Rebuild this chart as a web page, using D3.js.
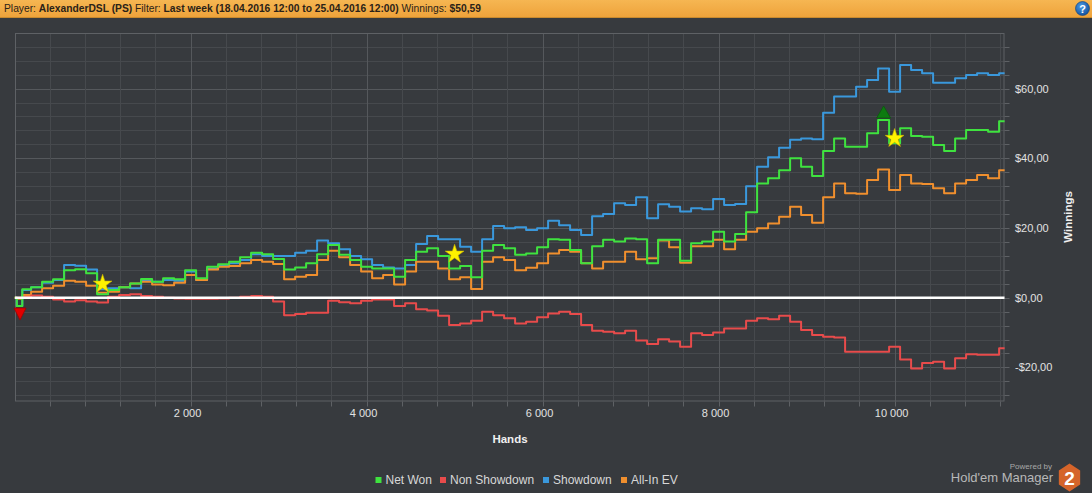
<!DOCTYPE html>
<html><head><meta charset="utf-8">
<script src="https://cdn.jsdelivr.net/npm/d3@7"></script>
<style>
html,body{margin:0;padding:0;background:#373a3e;overflow:hidden;}
svg{display:block;}
</style></head><body>
<svg id="c" width="1092" height="493"></svg>
<script>
// ---------- data ----------
const hands = [0,50,125,250,375,500,625,750,875,1000,1125,1250,1375,1500,1625,1750,1875,2000,2125,2250,2375,2500,2625,2750,2875,3000,3125,3250,3375,3500,3625,3750,3875,4000,4125,4250,4375,4500,4625,4750,4875,5000,5125,5250,5375,5500,5625,5750,5875,6000,6125,6250,6375,6500,6625,6750,6875,7000,7125,7250,7375,7500,7625,7750,7875,8000,8125,8250,8375,8500,8625,8750,8875,9000,9125,9250,9375,9500,9625,9750,9875,10000,10125,10250,10375,10500,10625,10750,10875,11000,11125,11250];
const netWon = [0,-2.4,2.4,3.0,4.6,5.3,7.9,8.2,7.0,1.0,2.2,3.0,4.1,5.4,4.6,5.6,5.3,7.9,5.6,8.9,9.6,10.3,11.6,12.9,12.5,11.1,8.1,8.7,9.9,12.5,15.1,12.3,10.8,8.9,8.4,8.4,6.0,10.8,13.2,14.2,12.0,8.4,9.1,5.9,13.5,15.1,14.2,12.3,12.7,14.5,16.8,16.6,13.7,9.9,14.8,16.6,16.1,17.0,16.8,9.9,16.6,16.6,10.6,15.6,16.1,18.9,16.1,18.3,24.5,32.8,34.3,36.6,40.0,37.6,34.9,42.1,45.7,43.3,43.3,47.2,51.0,44.3,48.6,46.4,46.2,43.8,42.1,45.7,48.1,48.1,47.6,50.6];
const nonShowdown = [0,0,0.3,0.6,0.3,-0.5,-1.1,-0.7,-1.1,-1.4,0.3,0.8,1.0,0.5,0.3,0.0,-0.2,-0.3,-0.3,-0.3,-0.2,0.0,0.3,0.5,0.3,-1.1,-5.0,-4.7,-4.3,-4.3,-0.9,-1.3,-1.6,-0.9,-0.5,-0.5,-2.4,-1.6,-3.3,-3.7,-5.2,-7.8,-7.4,-6.6,-4.0,-5.0,-5.9,-7.4,-6.9,-5.6,-4.5,-4.0,-4.7,-7.8,-9.5,-9.8,-10.2,-9.5,-12.3,-13.3,-11.9,-12.6,-14.1,-10.2,-10.7,-10.0,-8.8,-8.8,-6.6,-5.9,-6.2,-5.2,-6.9,-9.3,-10.7,-11.2,-11.4,-15.5,-15.5,-15.5,-15.5,-14.1,-17.7,-20.3,-18.7,-18.4,-20.3,-17.4,-16.2,-16.4,-16.4,-14.5];
const showdown = [0,-2.4,2.2,3.0,4.3,5.1,9.4,9.2,8.1,2.4,2.7,3.0,2.7,5.1,4.6,5.1,4.9,7.5,5.1,8.4,9.1,9.9,10.8,12.5,12.0,12.0,12.0,12.9,13.5,16.4,15.6,13.9,12.0,11.0,9.4,8.7,8.4,9.4,15.4,17.7,16.8,16.8,14.6,13.2,16.8,20.6,19.9,20.2,19.4,19.9,22.1,20.8,19.4,18.0,23.4,24.0,27.1,26.6,28.8,22.8,26.8,26.1,24.7,25.7,25.4,28.3,26.6,26.9,32.0,37.6,40.3,43.0,45.3,45.7,45.5,53.1,57.7,57.7,60.5,62.5,65.8,59.1,66.8,65.3,64.4,61.7,61.7,63.0,63.9,64.4,63.9,64.4];
const allInEV = [0,-0.3,0.8,1.7,2.7,3.4,4.9,4.6,3.4,1.4,1.7,3.0,4.1,4.6,3.8,3.6,4.3,6.5,5.1,8.1,8.9,9.1,9.9,10.8,10.3,9.7,5.3,6.0,6.5,10.8,13.5,11.6,9.4,7.5,5.6,6.5,3.8,7.5,10.3,10.3,8.4,5.3,5.9,2.5,10.3,11.6,10.8,7.9,8.6,9.9,12.7,13.7,13.2,9.9,8.4,10.3,10.3,13.2,11.0,11.3,16.4,14.5,10.0,14.8,14.8,16.6,13.9,16.6,18.9,19.9,21.3,23.2,26.1,23.7,21.5,28.8,32.8,30.0,29.8,33.8,36.8,30.9,35.2,32.8,32.6,31.4,30.0,32.8,33.8,35.2,34.3,36.6];
const seriesNames = ["Net Won","Non Showdown","Showdown","All-In EV"];
const seriesColors = ["#3fe23f","#e84b4b","#3a98dc","#f08f2e"];
const xTicks = [2000,4000,6000,8000,10000];
const xTickLabels = ["2 000","4 000","6 000","8 000","10 000"];
const yTicks = [-20,0,20,40,60];
const yTickLabels = ["-$20,00","$0,00","$20,00","$40,00","$60,00"];
const starHands = [1000,5000,10000];
const starValues = [3.9,12.5,45.7];
const headerParts = [["Player: ",false],["AlexanderDSL (PS) ",true],["Filter: ",false],["Last week (18.04.2016 12:00 to 25.04.2016 12:00) ",true],["Winnings: ",false],["$50,59",true]];

// ---------- layout ----------
const svg = d3.select("#c");
const L = 15, R = 1004.5, T = 33, B = 401.5;
const x = d3.scaleLinear().domain([0, 11250]).range([14.6, 1004.6]);
const y = d3.scaleLinear().domain([-29.78, 75.95]).range([B, T]);
const FONT = "'Liberation Sans', Arial, sans-serif";

const defs = svg.append("defs");
const hg = defs.append("linearGradient").attr("id","hg").attr("x1",0).attr("y1",0).attr("x2",0).attr("y2",1);
hg.append("stop").attr("offset","0%").attr("stop-color","#f6b652");
hg.append("stop").attr("offset","100%").attr("stop-color","#eea33b");
const ig = defs.append("radialGradient").attr("id","ig").attr("cx","40%").attr("cy","35%").attr("r","70%");
ig.append("stop").attr("offset","0%").attr("stop-color","#4a9be6");
ig.append("stop").attr("offset","100%").attr("stop-color","#14509a");

svg.append("rect").attr("width",1092).attr("height",493).attr("fill","#373a3e");

// header
svg.append("rect").attr("x",0).attr("y",0).attr("width",1092).attr("height",17).attr("fill","url(#hg)");
svg.append("line").attr("x1",0).attr("x2",1092).attr("y1",17.5).attr("y2",17.5).attr("stroke","#c98a2e").attr("stroke-width",1);
const ht = svg.append("text").attr("x",4).attr("y",12).attr("font-family",FONT).attr("font-size",11)
  .attr("fill","#2a2218").attr("xml:space","preserve").style("white-space","pre");
headerParts.forEach(p=>{
  ht.append("tspan").attr("font-weight",p[1]?"bold":"normal").text(p[0]);
});
// fit total header width to reference (~477px) by font size only
const natW = ht.node().getComputedTextLength();
ht.attr("font-size", (11*477/natW).toFixed(2));
svg.append("circle").attr("cx",1082.5).attr("cy",8.5).attr("r",7).attr("fill","url(#ig)").attr("stroke","#0e3f7a").attr("stroke-width",0.6);
svg.append("text").attr("x",1082.5).attr("y",12.5).attr("text-anchor","middle").attr("font-family",FONT).attr("font-weight","bold").attr("font-size",11).attr("fill","#fff").text("?");

// grid
const g = svg.append("g");
const yMinor = d3.range(-28, 76, 4);
const xMinor = d3.range(400, 11250, 400);
g.selectAll(".hy").data(yMinor).enter().append("line")
  .attr("x1",L).attr("x2",R).attr("y1",d=>Math.round(y(d))+0.5).attr("y2",d=>Math.round(y(d))+0.5)
  .attr("stroke",d=>d%20===0?"#55585c":"#46494d").attr("stroke-width",1);
g.selectAll(".vx").data(xMinor).enter().append("line")
  .attr("y1",T).attr("y2",B).attr("x1",d=>Math.round(x(d))+0.5).attr("x2",d=>Math.round(x(d))+0.5)
  .attr("stroke",d=>d%2000===0?"#55585c":"#46494d").attr("stroke-width",1);
// ticks
g.selectAll(".ty").data(yMinor).enter().append("line")
  .attr("x1",R).attr("x2",R+5).attr("y1",d=>Math.round(y(d))+0.5).attr("y2",d=>Math.round(y(d))+0.5)
  .attr("stroke","#5e6165");
g.selectAll(".tx").data(xMinor).enter().append("line")
  .attr("y1",B).attr("y2",B+5).attr("x1",d=>Math.round(x(d))+0.5).attr("x2",d=>Math.round(x(d))+0.5)
  .attr("stroke","#5e6165");
// frame
svg.append("rect").attr("x",L+0.5).attr("y",T+0.5).attr("width",R-L-1).attr("height",B-T-1)
  .attr("fill","none").attr("stroke","#5e6165").attr("stroke-width",1);

// axis labels
svg.selectAll(".yl").data(yTicks).enter().append("text")
  .attr("x",1015).attr("y",d=>y(d)+4).attr("font-family",FONT).attr("font-size",11).attr("fill","#e2e2e2")
  .text((d,i)=>yTickLabels[i]);
svg.selectAll(".xl").data(xTicks).enter().append("text")
  .attr("x",d=>x(d)-3).attr("y",417).attr("text-anchor","middle").attr("font-family",FONT).attr("font-size",11).attr("fill","#e2e2e2")
  .text((d,i)=>xTickLabels[i]);
svg.append("text").attr("x",510).attr("y",443).attr("text-anchor","middle").attr("font-family",FONT)
  .attr("font-size",11.5).attr("font-weight","bold").attr("fill","#f0f0f0").text("Hands");
svg.append("text").attr("transform","translate(1072,217) rotate(-90)").attr("text-anchor","middle").attr("font-family",FONT)
  .attr("font-size",11.5).attr("font-weight","bold").attr("fill","#f0f0f0").text("Winnings");

// series
const seriesData = [netWon, nonShowdown, showdown, allInEV];
const line = d3.line().x((d,i)=>x(hands[i])).y(d=>y(d)).curve(d3.curveStep);
const drawOrder = [2,3,1,0];
const plot = svg.append("g");
drawOrder.forEach(si=>{
  plot.append("path").datum(seriesData[si]).attr("d",line).attr("fill","none")
    .attr("stroke",seriesColors[si]).attr("stroke-width",2).attr("stroke-linejoin","round");
});
// zero line
plot.append("line").attr("x1",L).attr("x2",R).attr("y1",y(0)).attr("y2",y(0)).attr("stroke","#ffffff").attr("stroke-width",2.6);

// markers: max / min of net won
const maxI = d3.maxIndex(netWon), minI = d3.minIndex(netWon);
const mx = x(hands[maxI]), my = y(netWon[maxI]);
plot.append("path").attr("d",`M${mx},${my-14} L${mx+7},${my-2} L${mx-7},${my-2} Z`).attr("fill","#0d7a10").attr("stroke","#0a5a0c").attr("stroke-width",0.8);
const nx = x(hands[minI])+1, ny = y(netWon[minI]);
plot.append("path").attr("d",`M${nx-6},${ny+2} L${nx+6},${ny+2} L${nx},${ny+14} Z`).attr("fill","#e00000").attr("stroke","#a00000").attr("stroke-width",0.8);
// stars
const star = d3.symbol().type(d3.symbolStar).size(110);
starHands.forEach((h,i)=>{
  plot.append("path").attr("d",star).attr("transform",`translate(${x(h)},${y(starValues[i])})`)
    .attr("fill","#fff200").attr("stroke","#c8b400").attr("stroke-width",0.6);
});

// legend
const legX = [375.5,440,543,621];
const lg = svg.append("g");
seriesNames.forEach((n,i)=>{
  lg.append("rect").attr("x",legX[i]).attr("y",477).attr("width",6).attr("height",6).attr("fill",seriesColors[i]);
  lg.append("text").attr("x",legX[i]+10).attr("y",484).attr("font-family",FONT).attr("font-size",12).attr("fill","#d8d8d8").text(n);
});

// logo
svg.append("text").attr("x",1052).attr("y",469).attr("text-anchor","end").attr("font-family",FONT).attr("font-size",8).attr("fill","#a8a8a8").text("Powered by");
svg.append("text").attr("x",1053).attr("y",482).attr("text-anchor","end").attr("font-family",FONT).attr("font-size",13).attr("fill","#b8b8b8").text("Hold'em Manager");
const hx = 1069.5, hy = 477.5, hr = 14;
const hex = d3.range(6).map(k=>{const a = Math.PI/3*k - Math.PI/2; return [hx+hr*0.88*Math.cos(a), hy+hr*Math.sin(a)];});
svg.append("path").attr("d","M"+hex.map(p=>p.join(",")).join("L")+"Z").attr("fill","#d5642a");
svg.append("text").attr("x",hx).attr("y",hy+7).attr("text-anchor","middle").attr("font-family",FONT).attr("font-weight","bold").attr("font-size",19).attr("fill","#ffffff").text("2");
</script>
</body></html>
